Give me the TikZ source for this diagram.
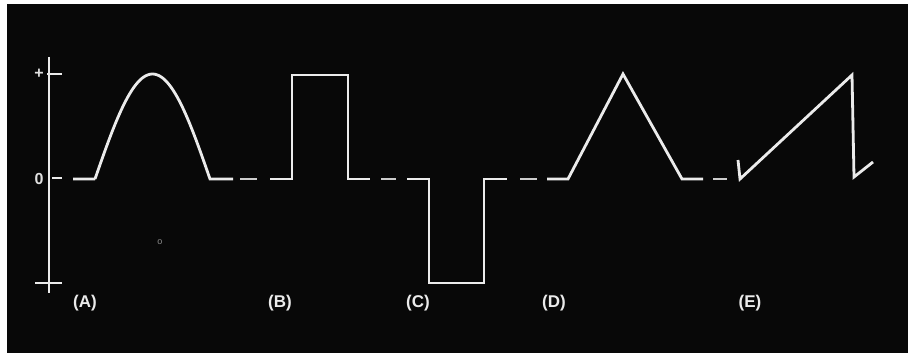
\documentclass[tikz,border=0pt]{standalone}
\usepackage{fontspec}
\setmainfont{Liberation Sans}
\begin{document}
\begin{tikzpicture}[x=1pt,y=-1pt,
  wave/.style={draw=white!92!black,line width=2.8pt,line join=miter,line cap=butt},
  dsh/.style={draw=white!80!black,line width=2.6pt},
  axis/.style={draw=white!92!black,line width=1.8pt},
  lbl/.style={text=white!92!black,font=\fontsize{17}{17}\selectfont\bfseries,inner sep=0pt},
  ticklbl/.style={text=white!88!black,font=\fontsize{16}{16}\selectfont\bfseries,inner sep=0pt}]
\useasboundingbox (0,0) rectangle (915,353);
\fill[white] (0,0) rectangle (915,353);
\fill[black!97] (7,4) rectangle (908,353);
% axis
\draw[axis] (49,57) -- (49,293);
\draw[axis] (47,74) -- (62,74);
\draw[axis] (52,178) -- (62,178);
\draw[axis] (35,283) -- (62,283);
\node[ticklbl] (plus) at (39,74) {+};
\node[ticklbl] (zero) at (39,179) {0};
% A
\draw[wave] (73,179) -- (95,179)
  plot[domain=95:210,samples=60,smooth] (\x,{179-105*sin((\x-95)/115*180)})
  -- (233,179);
\draw[dsh] (240,179) -- (257,179);
% B
\draw[wave] (270,179) -- (292,179) -- (292,75) -- (348,75) -- (348,179) -- (370,179);
\draw[dsh] (381,179) -- (396,179);
% C
\draw[wave] (407,179) -- (429,179) -- (429,283) -- (484,283) -- (484,179) -- (507,179);
\draw[dsh] (520,179) -- (537,179);
% D
\draw[wave] (547,179) -- (568,179) -- (623,74) -- (682,179) -- (703,179);
\draw[dsh] (713,179) -- (727,179);
% E
\draw[wave] (738,160) -- (740,179) -- (852,75) -- (854,177) -- (873,162);
% labels
\node[lbl] (la) at (85,303) {(A)};
\node[lbl] (lb) at (280,303) {(B)};
\node[lbl] (lc) at (418,303) {(C)};
\node[lbl] (ld) at (554,303) {(D)};
\node[lbl] (le) at (750,303) {(E)};
\node[text=white!55!black,font=\fontsize{9}{9}\selectfont,inner sep=0pt] (mark) at (160,242) {o};
\end{tikzpicture}
\end{document}
